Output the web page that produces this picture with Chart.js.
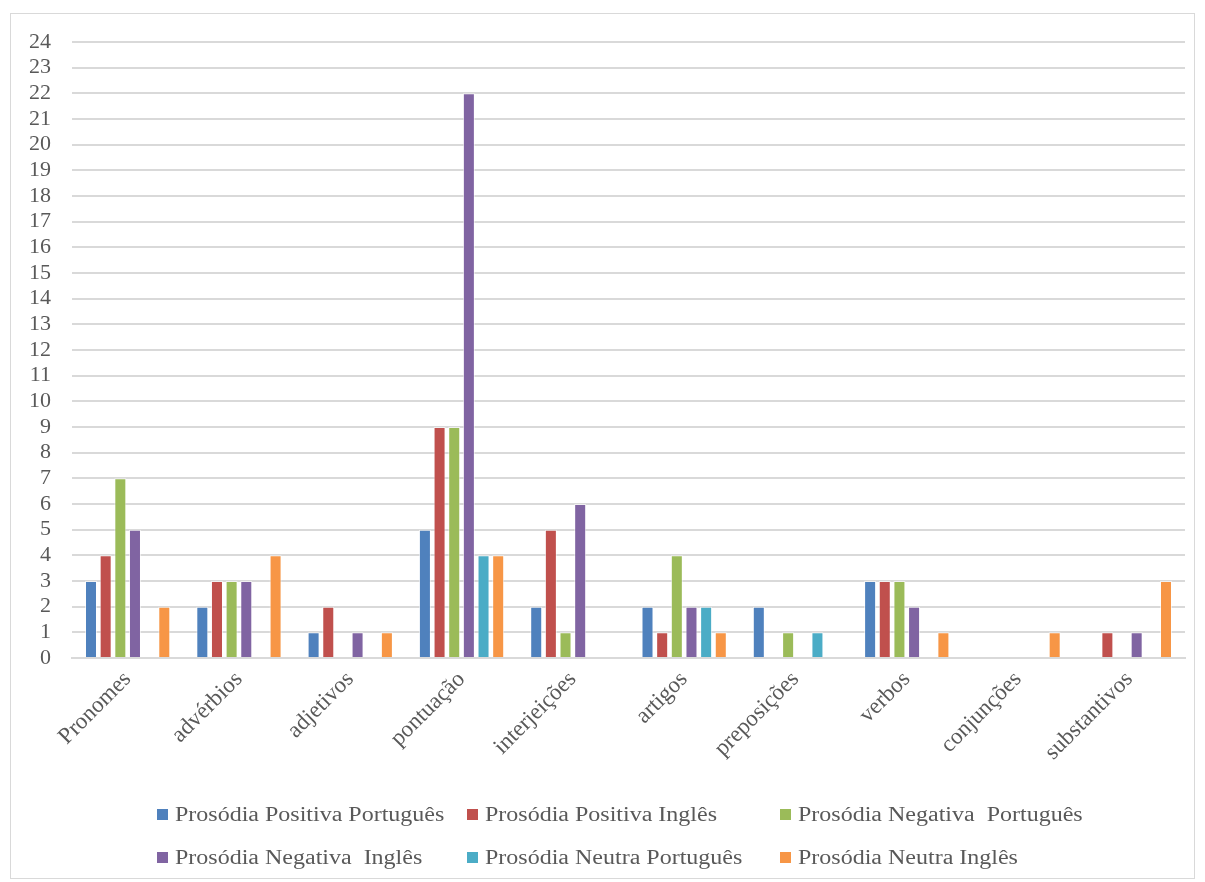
<!DOCTYPE html>
<html>
<head>
<meta charset="utf-8">
<script src="https://cdn.jsdelivr.net/npm/chart.js@4"></script>
<style>
  html, body { margin: 0; padding: 0; background: #fff; }
  #frame { position: absolute; left: 10px; top: 13px; width: 1185px; height: 866px; border: 1px solid #d9d9d9; box-sizing: border-box; }
  #wrap { position: absolute; left: 0; top: 0; width: 1205px; height: 790px; }
  #legend { position: absolute; left: 0; top: 0; width: 1205px; height: 882px; pointer-events: none;
            font-family: "Liberation Serif", "DejaVu Serif", serif; font-size: 20px; color: #595959; }
  .item { position: absolute; white-space: pre; line-height: 22px; }
  .box { display: inline-block; width: 11px; height: 11px; margin-right: 7px; vertical-align: 1px; }
  .txt { display: inline-block; transform: scaleX(1.2); transform-origin: left center; }
</style>
</head>
<body>
<div id="frame"></div>
<div id="wrap"><canvas id="c" width="1205" height="790"></canvas></div>
<div id="legend"></div>
<script>
const categories = ["Pronomes", "advérbios", "adjetivos", "pontuação", "interjeições", "artigos", "preposições", "verbos", "conjunções", "substantivos"];
const seriesNames = ["Prosódia Positiva Português", "Prosódia Positiva Inglês", "Prosódia Negativa  Português", "Prosódia Negativa  Inglês", "Prosódia Neutra Português", "Prosódia Neutra Inglês"];
const positivaPortugues = [3, 2, 1, 5, 2, 2, 2, 3, 0, 0];
const positivaIngles    = [4, 3, 2, 9, 5, 1, 0, 3, 0, 1];
const negativaPortugues = [7, 3, 0, 9, 1, 4, 1, 3, 0, 0];
const negativaIngles    = [5, 3, 1, 22, 6, 2, 0, 2, 0, 1];
const neutraPortugues   = [0, 0, 0, 4, 0, 2, 1, 0, 0, 0];
const neutraIngles      = [2, 4, 1, 4, 0, 1, 0, 1, 1, 3];
const yTicks = [0,1,2,3,4,5,6,7,8,9,10,11,12,13,14,15,16,17,18,19,20,21,22,23,24];

const colors = ["#4F81BD", "#C0504D", "#9BBB59", "#8064A2", "#4BACC6", "#F79646"];
const values = [positivaPortugues, positivaIngles, negativaPortugues, negativaIngles, neutraPortugues, neutraIngles];

const FONT = "'Liberation Serif', 'DejaVu Serif', serif";

new Chart(document.getElementById('c'), {
  type: 'bar',
  data: {
    labels: categories,
    datasets: values.map((v, i) => ({
      label: seriesNames[i],
      data: v,
      backgroundColor: colors[i],
      borderColor: 'rgba(255,255,255,0.6)',
      borderWidth: 1,
      categoryPercentage: 0.79,
      barPercentage: 0.82
    }))
  },
  options: {
    responsive: false,
    animation: false,
    layout: { padding: { left: 0, right: 20, top: 42, bottom: 0 } },
    plugins: { legend: { display: false }, tooltip: { enabled: false } },
    scales: {
      x: {
        grid: { display: false, drawTicks: false },
        border: { display: true, color: '#d9d9d9', width: 2 },
        ticks: { color: '#595959', font: { family: FONT, size: 23 }, minRotation: 45, maxRotation: 45, padding: 8, autoSkip: false },
        afterFit: s => { s.height = 132; }
      },
      y: {
        min: 0, max: 24,
        afterBuildTicks: s => { s.ticks = yTicks.map(v => ({ value: v })); },
        grid: { color: '#d9d9d9', lineWidth: 2, drawTicks: false },
        border: { display: false },
        ticks: { color: '#595959', font: { family: FONT, size: 22 }, padding: 21, autoSkip: false, stepSize: 1 },
        afterFit: s => { s.width = 72; }
      }
    }
  }
});

// HTML legend in a grid layout like the original
const lg = document.getElementById('legend');
const colX = [157, 467, 780];
const rowY = [803, 846];
seriesNames.forEach((name, i) => {
  const d = document.createElement('div');
  d.className = 'item';
  d.style.left = colX[i % 3] + 'px';
  d.style.top = rowY[Math.floor(i / 3)] + 'px';
  const b = document.createElement('span');
  b.className = 'box';
  b.style.background = colors[i];
  d.appendChild(b);
  const t = document.createElement('span');
  t.className = 'txt';
  t.textContent = name;
  d.appendChild(t);
  lg.appendChild(d);
});
</script>
</body>
</html>
